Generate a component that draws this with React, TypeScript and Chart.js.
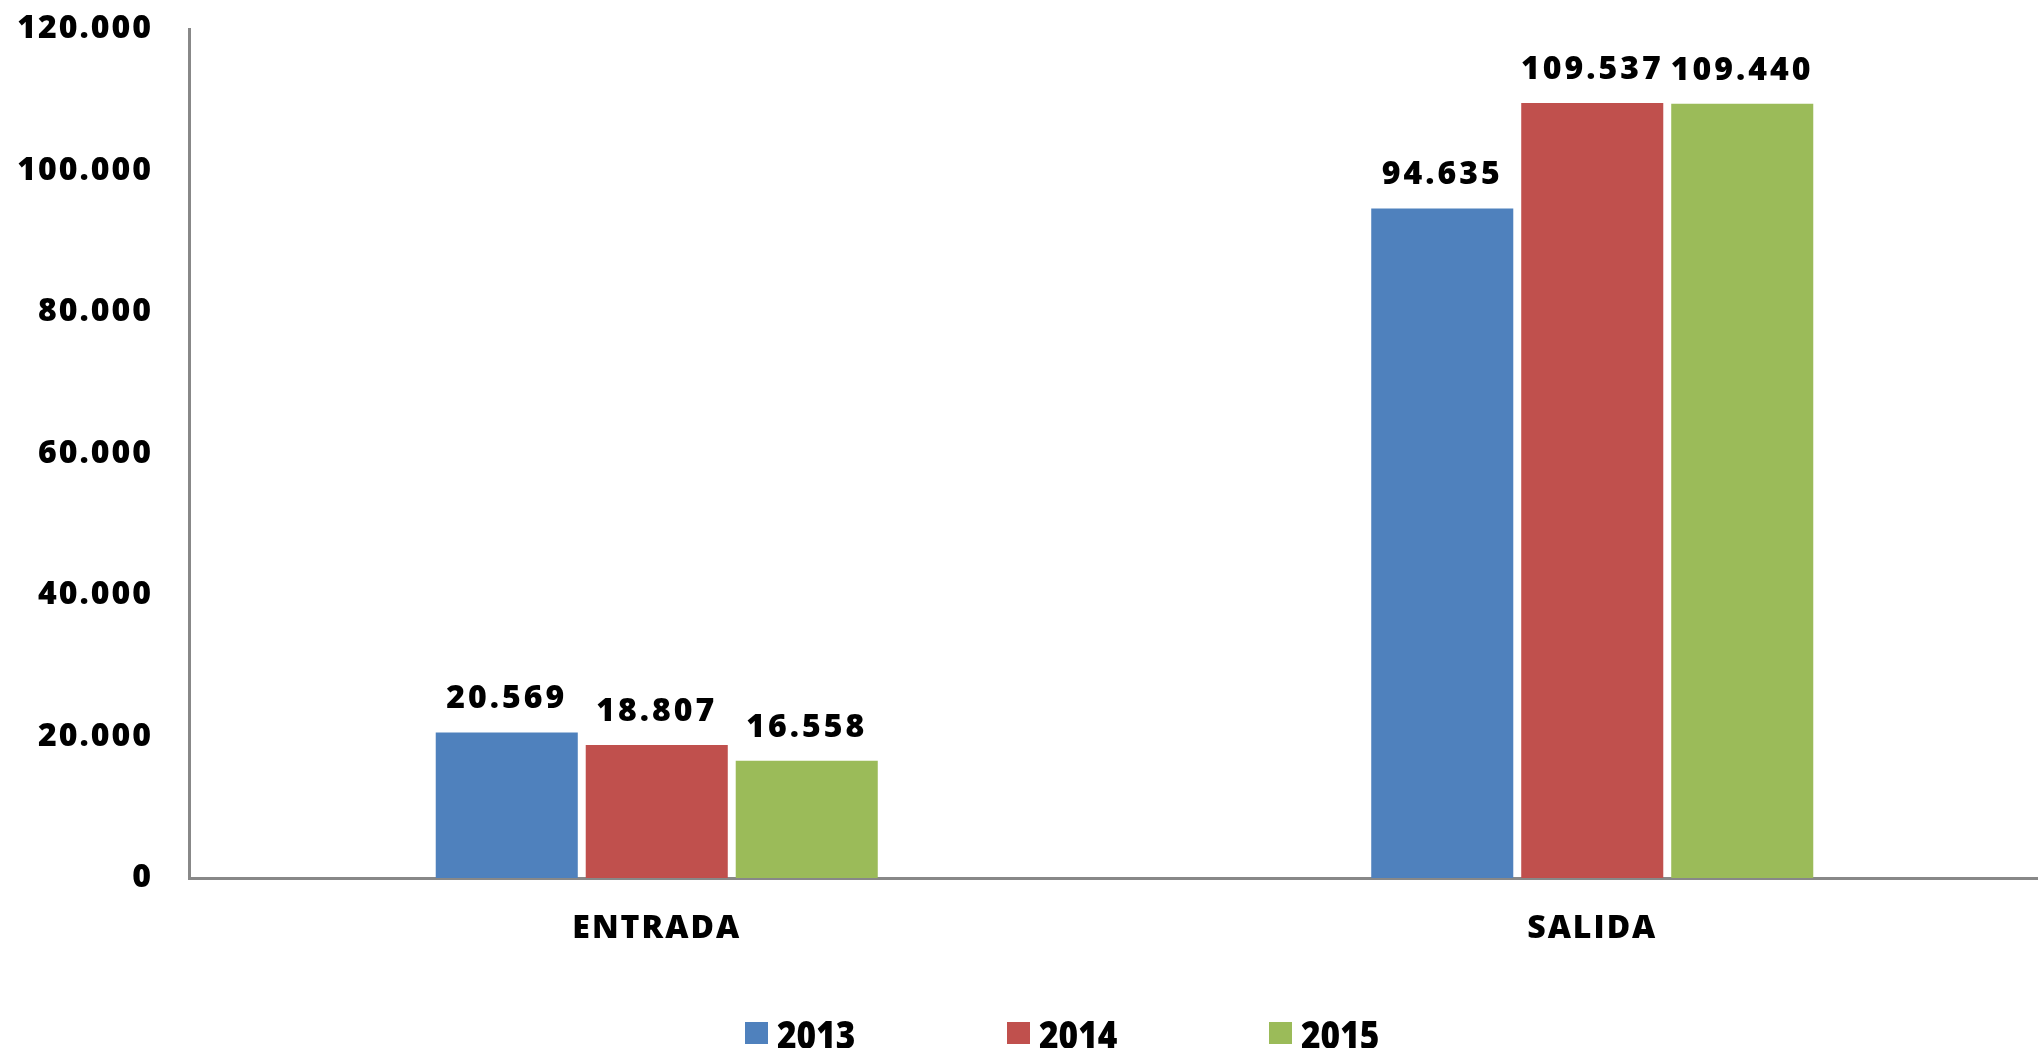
import React, { useEffect, useRef } from "react";
import { Chart, registerables } from "chart.js";

Chart.register(...registerables);

const categories = ["ENTRADA", "SALIDA"];
const seriesLabels = ["2013", "2014", "2015"];
const values2013 = [20569, 94635];
const values2014 = [18807, 109537];
const values2015 = [16558, 109440];
const seriesColors = ["#4F81BD", "#C0504D", "#9BBB59"];
const yMax = 120000;
const yStep = 20000;

const FONT = '"Open Sans", "DejaVu Sans", sans-serif';

const fmt = (n: number) => String(Math.round(n)).replace(/\B(?=(\d{3})+(?!\d))/g, ".");

const spacingPlugin = {
  id: "letterSpacing",
  beforeDraw(chart: any) {
    (chart.ctx as any).letterSpacing = "2px";
  },
};

const dataLabelPlugin = {
  id: "dataLabels",
  afterDatasetsDraw(chart: any) {
    const ctx = chart.ctx;
    ctx.save();
    (ctx as any).letterSpacing = "3px";
    ctx.font = `800 32px ${FONT}`;
    ctx.fillStyle = "#000";
    ctx.textAlign = "center";
    ctx.textBaseline = "alphabetic";
    chart.data.datasets.forEach((ds: any, i: number) => {
      const meta = chart.getDatasetMeta(i);
      meta.data.forEach((el: any, j: number) => {
        ctx.fillText(fmt(ds.data[j]), el.x, el.y - 24);
      });
    });
    ctx.restore();
  },
};

const legendPlugin = {
  id: "customLegend",
  afterDraw(chart: any) {
    const ctx = chart.ctx;
    ctx.save();
    (ctx as any).letterSpacing = "0px";
    ctx.font = `800 38px ${FONT}`;
    ctx.textBaseline = "alphabetic";
    ctx.textAlign = "left";
    const startX = 745;
    const step = 262;
    chart.data.datasets.forEach((ds: any, i: number) => {
      const x = startX + i * step;
      ctx.fillStyle = ds.backgroundColor;
      ctx.fillRect(x, 1022, 23, 22);
      ctx.fillStyle = "#000";
      ctx.save();
      ctx.translate(x + 32, 1049);
      ctx.scale(0.88, 1);
      ctx.fillText(ds.label, 0, 0);
      ctx.restore();
    });
    ctx.restore();
  },
};

export default function App() {
  const canvasRef = useRef<HTMLCanvasElement>(null);

  useEffect(() => {
    if (!canvasRef.current) return;
    const seriesValues = [values2013, values2014, values2015];
    const chart = new Chart(canvasRef.current, {
      type: "bar",
      data: {
        labels: categories,
        datasets: seriesLabels.map((label, i) => ({
          label,
          data: seriesValues[i],
          backgroundColor: seriesColors[i],
          borderWidth: 0,
          barPercentage: 0.947,
          categoryPercentage: 0.481,
        })),
      },
      options: {
        responsive: false,
        animation: false,
        devicePixelRatio: 1,
        layout: { padding: { top: 29, left: 0, right: 0, bottom: 0 } },
        plugins: {
          legend: { display: false },
          tooltip: { enabled: false },
          title: { display: false },
        },
        scales: {
          x: {
            grid: { display: false, drawTicks: false },
            border: { display: true, color: "#888888", width: 3 },
            ticks: {
              color: "#000",
              font: { family: FONT, size: 32, weight: "800" },
              padding: 32,
            },
            afterFit(scale: any) {
              scale.height = 170;
              scale.paddingTop = 0;
            },
          },
          y: {
            min: 0,
            max: yMax,
            grid: { display: false, drawTicks: false },
            border: { display: true, color: "#888888", width: 3 },
            ticks: {
              stepSize: yStep,
              color: "#000",
              font: { family: FONT, size: 32, weight: "800" },
              padding: 36,
              callback: (v: any) => fmt(Number(v)),
            },
            afterFit(scale: any) {
              scale.width = 189;
              scale.paddingTop = 0;
              scale.paddingBottom = 0;
            },
          },
        },
      },
      plugins: [spacingPlugin, dataLabelPlugin, legendPlugin],
    });
    return () => chart.destroy();
  }, []);

  return (
    <div
      style={{
        position: "fixed",
        left: 0,
        top: 0,
        width: 2038,
        height: 1048,
        overflow: "hidden",
        background: "#fff",
      }}
    >
      <canvas
        ref={canvasRef}
        width={2060}
        height={1048}
        style={{ width: 2060, height: 1048, display: "block" }}
      />
    </div>
  );
}
